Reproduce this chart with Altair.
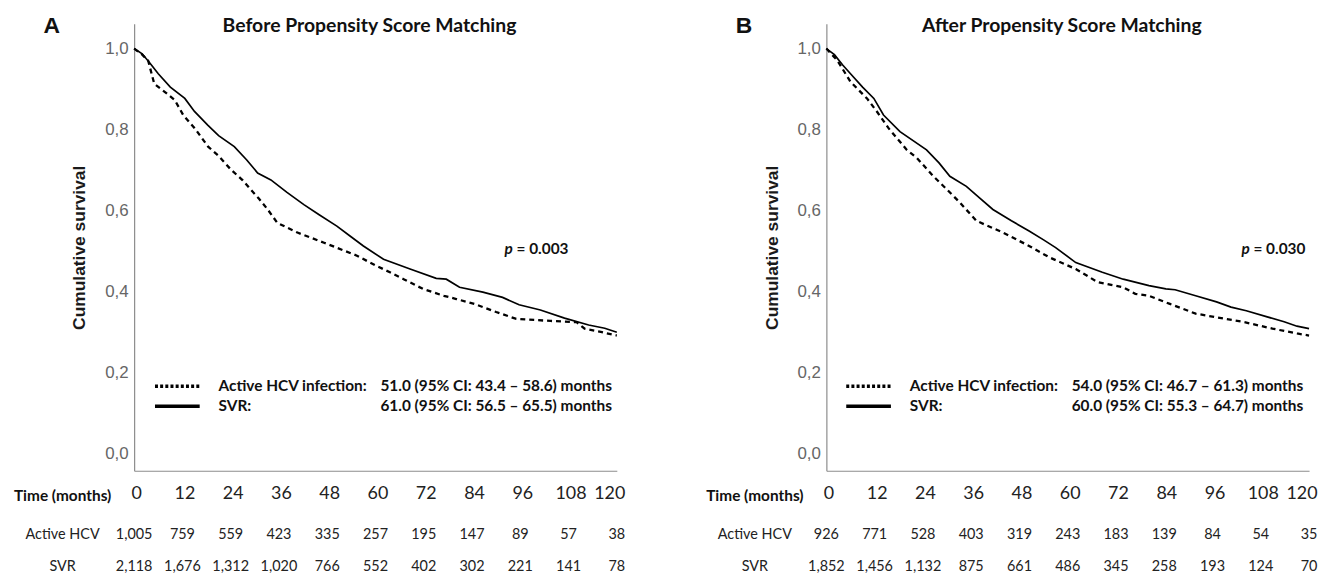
import altair as alt
import pandas as pd

# ---------------- data ----------------
months = [0, 12, 24, 36, 48, 60, 72, 84, 96, 108, 120]
y_ticks = [0.0, 0.2, 0.4, 0.6, 0.8, 1.0]

a_active_risk = [1005, 759, 559, 423, 335, 257, 195, 147, 89, 57, 38]
a_svr_risk = [2118, 1676, 1312, 1020, 766, 552, 402, 302, 221, 141, 78]
b_active_risk = [926, 771, 528, 403, 319, 243, 183, 139, 84, 54, 35]
b_svr_risk = [1852, 1456, 1132, 875, 661, 486, 345, 258, 193, 124, 70]

# Panel A (before matching) survival curves
a_svr_t = [0, 2, 4, 6, 9, 12.6, 15, 18.3, 21, 24.9, 28, 30.7, 34, 38, 42.2, 46, 50.4, 54, 57,
           62, 68.6, 75.1, 77.6, 80.9, 86.7, 91.6, 95.7, 101, 107, 113, 117, 120]
a_svr_s = [1.0, 0.987, 0.963, 0.938, 0.905, 0.877, 0.845, 0.811, 0.785, 0.758, 0.725, 0.693,
           0.676, 0.645, 0.615, 0.59, 0.562, 0.535, 0.513, 0.48, 0.456, 0.433, 0.431, 0.411,
           0.399, 0.386, 0.368, 0.355, 0.335, 0.318, 0.31, 0.3]
a_act_t = [0, 2, 3.5, 5, 8, 10.1, 12.2, 15.1, 18.4, 21, 24.1, 27, 29, 31, 33.2, 35.6, 40.6, 47.2,
           55.4, 60, 63.6, 67, 71.8, 77, 80.1, 84.6, 90, 95, 103.5, 110, 112, 116, 120]
a_act_s = [1.0, 0.985, 0.97, 0.913, 0.89, 0.873, 0.836, 0.803, 0.758, 0.735, 0.701, 0.675, 0.652,
           0.63, 0.603, 0.57, 0.546, 0.521, 0.489, 0.465, 0.448, 0.431, 0.407, 0.39, 0.382, 0.37,
           0.35, 0.333, 0.328, 0.325, 0.309, 0.301, 0.292]

# Panel B (after matching) survival curves
b_svr_t = [0, 2, 4, 6, 9, 11.8, 14.2, 18.3, 24.9, 28, 30.7, 34.8, 38, 41.4, 46, 50.4, 54, 57, 62,
           68.6, 73.8, 80.2, 84.4, 86.7, 91.8, 97, 100.6, 104.4, 109.6, 113.8, 117, 120]
b_svr_s = [1.0, 0.985, 0.96, 0.938, 0.905, 0.877, 0.836, 0.795, 0.75, 0.718, 0.685, 0.66, 0.632,
           0.603, 0.575, 0.55, 0.528, 0.509, 0.472, 0.448, 0.431, 0.415, 0.407, 0.405, 0.39,
           0.375, 0.362, 0.353, 0.338, 0.326, 0.315, 0.309]
b_act_t = [0, 2.7, 6, 10.1, 12.6, 15.5, 20, 22.5, 26.6, 30, 33.2, 37.3, 43.9, 50.4, 55.4, 62,
           67.4, 73.8, 76.8, 80.2, 85.4, 91.8, 99.3, 103.5, 110.9, 117, 120]
b_act_s = [1.0, 0.971, 0.918, 0.877, 0.844, 0.803, 0.75, 0.73, 0.685, 0.652, 0.62, 0.575, 0.546,
           0.513, 0.485, 0.456, 0.424, 0.411, 0.395, 0.39, 0.37, 0.346, 0.333, 0.326, 0.309,
           0.297, 0.292]

W, H = 486, 450
Y_DOM = [-0.0417, 1.061]
LATO = "Lato"
ARIAL = "Liberation Sans"


def panel(letter, title, svr_t, svr_s, act_t, act_s, risk_act, risk_svr,
          act_txt, svr_txt, pval, leg_dx, p_dx):
    x_enc = alt.X("t:Q", scale=alt.Scale(domain=[0, 120], nice=False),
                  axis=alt.Axis(values=months, ticks=False, tickSize=0, grid=False, title=None,
                                labelFont=LATO, labelFontSize=18, labelColor="#222",
                                labelPadding=14, labelFlush=False,
                                labelAlign={"condition": {"test": "datum.value == 120",
                                                          "value": "right"},
                                            "value": "center"},
                                labelOffset={"condition": {"test": "datum.value == 120",
                                                           "value": 8},
                                             "value": 2},
                                domainColor="#8c8c8c", domainWidth=1.2))
    y_enc = alt.Y("s:Q", scale=alt.Scale(domain=Y_DOM, nice=False, zero=False),
                  axis=alt.Axis(values=y_ticks, ticks=False, tickSize=0, grid=False,
                                labelExpr="replace(format(datum.value, '.1f'), '.', ',')",
                                labelFont=ARIAL, labelFontSize=17, labelColor="#666",
                                labelPadding=6, domainColor="#8c8c8c", domainWidth=1.2,
                                title="Cumulative survival", titleFont=ARIAL,
                                titleFontSize=17.5, titleFontWeight="bold", titleColor="#1a1a1a",
                                titlePadding=16))

    svr_df = pd.DataFrame({"t": svr_t, "s": svr_s})
    act_df = pd.DataFrame({"t": act_t, "s": act_s})

    svr_line = alt.Chart(svr_df).mark_line(color="black", strokeWidth=1.7).encode(x=x_enc, y=y_enc)
    act_line = alt.Chart(act_df).mark_line(color="black", strokeWidth=2.3,
                                           strokeDash=[5, 4]).encode(x="t:Q", y="s:Q")

    risk_df = pd.DataFrame({"t": months, "act": risk_act, "svr": risk_svr})
    risk_font = dict(font=LATO, fontSize=14.5, color="#222", align="center", baseline="middle")
    risk_a = alt.Chart(risk_df).mark_text(**risk_font).encode(
        x="t:Q", y=alt.value(515), text=alt.Text("act:Q", format=","))
    risk_s = alt.Chart(risk_df).mark_text(**risk_font).encode(
        x="t:Q", y=alt.value(547), text=alt.Text("svr:Q", format=","))

    one = pd.DataFrame({"k": [0]})
    row_lab = lambda txt, yy, **kw: alt.Chart(one).mark_text(
        align="center", baseline="middle", **kw).encode(
        x=alt.value(-72), y=alt.value(yy), text=alt.value(txt))

    time_lab = row_lab("Time (months)", 475, font=LATO, fontSize=15.5, fontWeight="bold",
                       color="#111")
    act_lab = row_lab("Active HCV", 515, font=LATO, fontSize=14.5, color="#222")
    svr_lab = row_lab("SVR", 547, font=LATO, fontSize=14.5, color="#222")

    letter_t = alt.Chart(one).mark_text(align="center", baseline="middle", font=ARIAL,
                                        fontSize=23, fontWeight="bold", color="#111").encode(
        x=alt.value(-83), y=alt.value(2), text=alt.value(letter))
    title_t = alt.Chart(one).mark_text(align="center", baseline="middle", font=LATO,
                                       fontSize=19.5, fontWeight="bold", color="#111").encode(
        x=alt.value(237), y=alt.value(2), text=alt.value(title))

    # legend
    leg_dot = alt.Chart(one).mark_rule(color="black", strokeWidth=3.5, strokeDash=[3, 2.2]).encode(
        x=alt.value(leg_dx), x2=alt.value(leg_dx + 45), y=alt.value(365))
    leg_sol = alt.Chart(one).mark_rule(color="black", strokeWidth=3.5).encode(
        x=alt.value(leg_dx), x2=alt.value(leg_dx + 45), y=alt.value(385))
    leg_font = dict(font=LATO, fontSize=15.5, fontWeight="bold", color="#111", align="left",
                    baseline="middle")

    def ltxt(txt, xx, yy):
        return alt.Chart(one).mark_text(**leg_font).encode(
            x=alt.value(xx), y=alt.value(yy), text=alt.value(txt))

    leg = [ltxt("Active HCV infection:", leg_dx + 64, 365), ltxt(act_txt, leg_dx + 227, 365),
           ltxt("SVR:", leg_dx + 64, 385), ltxt(svr_txt, leg_dx + 227, 385)]

    p_i = alt.Chart(one).mark_text(font=LATO, fontSize=15.5, fontWeight="bold", fontStyle="italic",
                                   color="#111", align="left", baseline="middle").encode(
        x=alt.value(p_dx), y=alt.value(227), text=alt.value("p"))
    p_v = ltxt("= " + pval, p_dx + 12, 227)

    return alt.layer(svr_line, act_line, risk_a, risk_s, time_lab, act_lab, svr_lab,
                     letter_t, title_t, leg_dot, leg_sol, *leg, p_i, p_v).properties(
        width=W, height=H)


panel_a = panel("A", "Before Propensity Score Matching", a_svr_t, a_svr_s, a_act_t, a_act_s,
                a_active_risk, a_svr_risk,
                "51.0 (95% CI: 43.4 \u2013 58.6) months", "61.0 (95% CI: 56.5 \u2013 65.5) months",
                "0.003", 21, 373)
panel_b = panel("B", "After Propensity Score Matching", b_svr_t, b_svr_s, b_act_t, b_act_s,
                b_active_risk, b_svr_risk,
                "54.0 (95% CI: 46.7 \u2013 61.3) months", "60.0 (95% CI: 55.3 \u2013 64.7) months",
                "0.030", 20, 418)

chart = alt.hconcat(panel_a, panel_b, spacing=80).configure_view(stroke=None).properties(
    padding={"left": 5, "top": 5, "right": 0, "bottom": 0}, background="white")

chart.save("out.html", embed_options={"renderer": "svg", "actions": False})
